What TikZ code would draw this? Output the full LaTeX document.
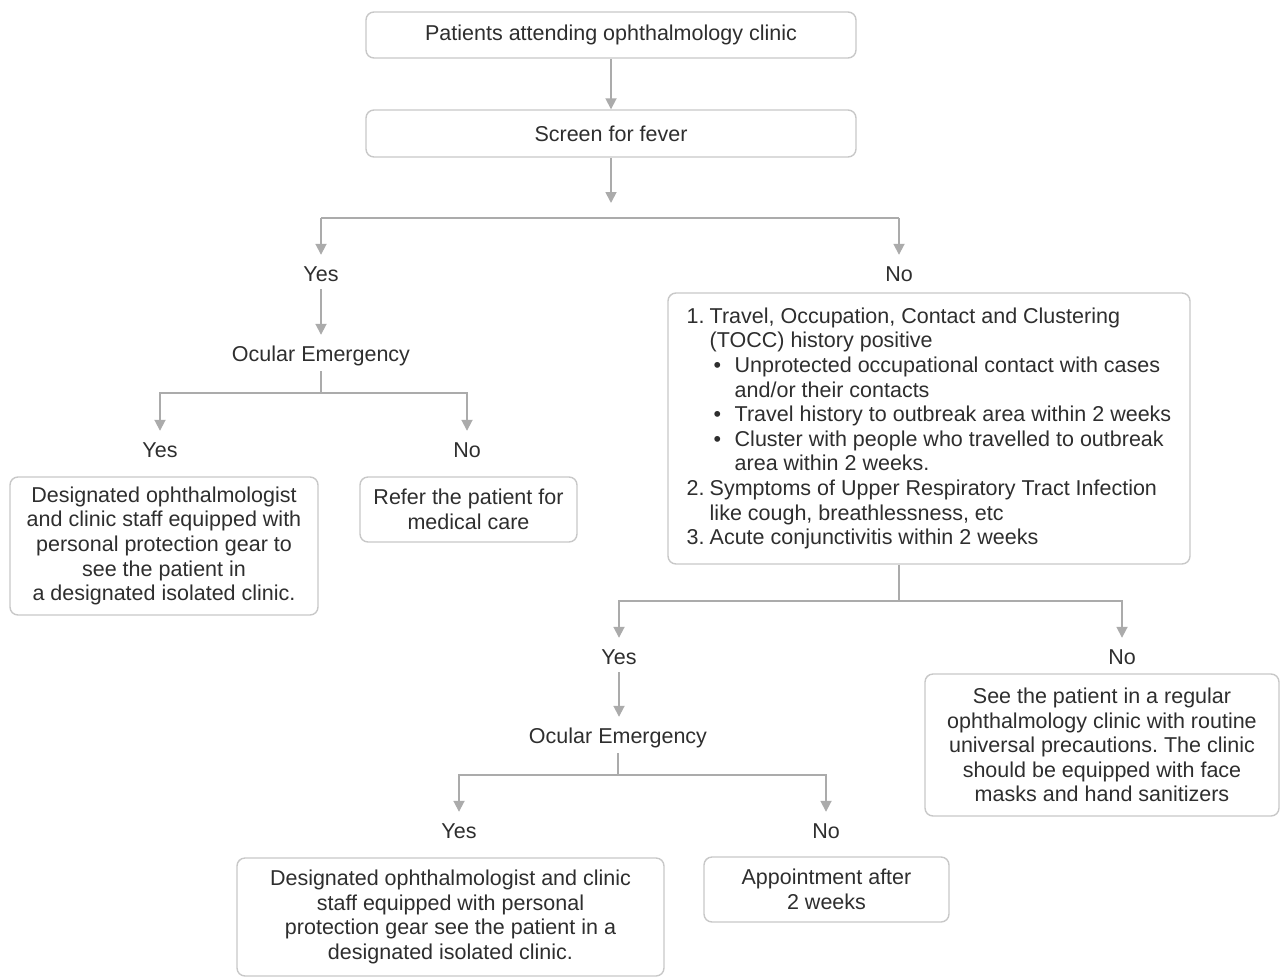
\documentclass[tikz,border=0pt]{standalone}
\usepackage{fontspec}
\setmainfont{Liberation Sans}
\usetikzlibrary{arrows.meta,calc}
\definecolor{linegray}{HTML}{ABABAB}
\definecolor{boxgray}{HTML}{C8C8C8}
\definecolor{txtgray}{HTML}{2E2E2E}
\newcommand\numit[1]{\makebox[23pt][l]{#1}}
\newcommand\bulit{\hspace*{27pt}\makebox[21pt][l]{\textbullet}}
\frenchspacing
\begin{document}
\begin{tikzpicture}[x=1pt,y=-1pt,
  every node/.style={text=txtgray,font=\fontsize{21.5}{24.6}\selectfont},
  box/.style={draw=boxgray,line width=1.4pt,rounded corners=8pt,fill=white,inner sep=0pt,align=center},
  lbl/.style={inner sep=0pt,minimum height=30pt},
  conn/.style={draw=linegray,line width=1.8pt},
  arr/.style={conn,-{Triangle[length=11pt,width=11pt]},shorten >=4pt}]
\useasboundingbox (0,0) rectangle (1280,978);

% top boxes
\node[box,minimum width=490pt,minimum height=46pt] (b1) at (611,35) {Patients attending ophthalmology clinic};
\node[box,minimum width=490pt,minimum height=47pt] (b2) at (611,133.5) {Screen for fever};
\draw[arr,shorten >=0pt] (b1.south) -- (b2.north);
\coordinate (c1) at (611,203);
\draw[arr,shorten >=0pt] (b2.south) -- (c1);
\coordinate (hl) at (321,218);
\coordinate (hr) at (899,218);
\draw[conn] (hl) -- (hr);

% left branch
\node[lbl] (yesA) at (321,274) {Yes};
\node[lbl] (noA) at (899,274) {No};
\draw[arr] (hl) -- (yesA.north);
\draw[arr] (hr) -- (noA.north);
\node[lbl] (oe1) at (321,356) {Ocular Emergency};
\draw[arr,shorten >=6pt] (yesA.south) -- (oe1.north);
\coordinate (j1) at (321,393);
\node[lbl] (yes1) at (160,450) {Yes};
\node[lbl] (no1) at (467,450) {No};
\draw[conn] (oe1.south) -- (j1);
\draw[arr] (j1) -| (yes1.north);
\draw[arr] (j1) -| (no1.north);
\node[box,minimum width=308pt,minimum height=138pt] (iso1) at (164,546)
  {Designated ophthalmologist\\and clinic staff equipped with\\personal protection gear to\\see the patient in\\a designated isolated clinic.};
\node[box,minimum width=217pt,minimum height=65pt] (refer) at (468.5,509.5)
  {Refer the patient for\\medical care};

% right branch
\node[box,minimum width=522pt,minimum height=271pt,align=left] (tocc) at (929,428.5)
  {\numit{1.}Travel, Occupation, Contact and Clustering\\
   \hspace*{23pt}(TOCC) history positive\\
   \bulit Unprotected occupational contact with cases\\
   \hspace*{48pt}and/or their contacts\\
   \bulit Travel history to outbreak area within 2 weeks\\
   \bulit Cluster with people who travelled to outbreak\\
   \hspace*{48pt}area within 2 weeks.\\
   \numit{2.}Symptoms of Upper Respiratory Tract Infection\\
   \hspace*{23pt}like cough, breathlessness, etc\\
   \numit{3.}Acute conjunctivitis within 2 weeks};
\coordinate (j2) at (899,601);
\node[lbl] (yesB) at (619,657) {Yes};
\node[lbl] (noB) at (1122,657) {No};
\draw[conn] (noA |- tocc.south) -- (j2);
\draw[arr] (j2) -| (yesB.north);
\draw[arr] (j2) -| (noB.north);
\node[box,minimum width=354pt,minimum height=142pt] (regular) at (1102,745)
  {See the patient in a regular\\ophthalmology clinic with routine\\universal precautions. The clinic\\should be equipped with face\\masks and hand sanitizers};
\node[lbl] (oe2) at (618,738) {Ocular Emergency};
\draw[arr,shorten >=6pt] (yesB.south) -- (yesB.south |- oe2.north);
\coordinate (j3) at (618,775);
\node[lbl] (yesC) at (459,831) {Yes};
\node[lbl] (noC) at (826,831) {No};
\draw[conn] (oe2.south) -- (j3);
\draw[arr] (j3) -| (yesC.north);
\draw[arr] (j3) -| (noC.north);
\node[box,minimum width=427pt,minimum height=118pt] (iso2) at (450.5,917)
  {Designated ophthalmologist and clinic\\staff equipped with personal\\protection gear see the patient in a\\designated isolated clinic.};
\node[box,minimum width=245pt,minimum height=65pt] (appt) at (826.5,889.5)
  {Appointment after\\2 weeks};
\end{tikzpicture}
\end{document}
